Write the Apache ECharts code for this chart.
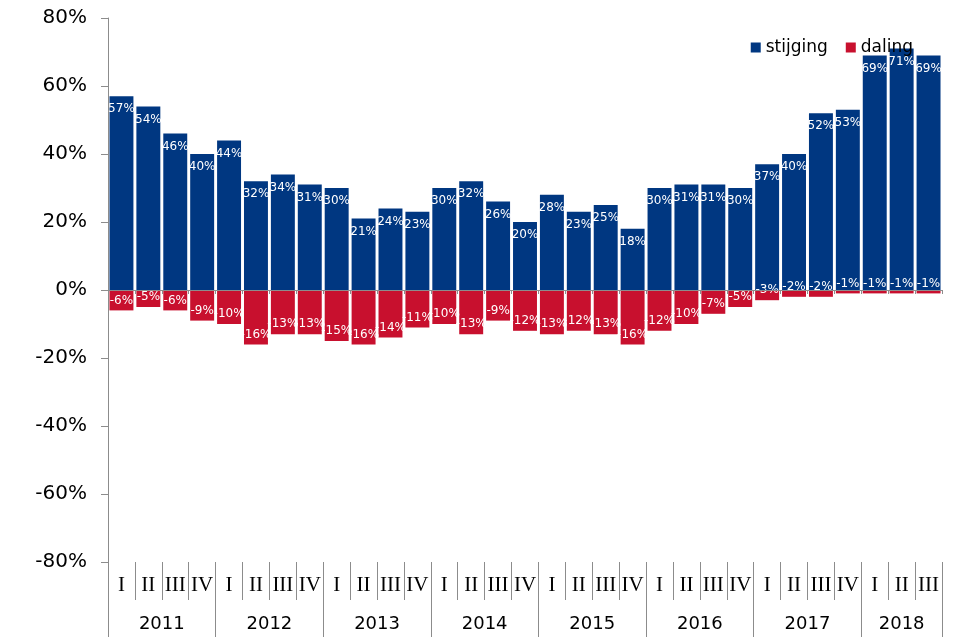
<!DOCTYPE html>
<html>
<head>
<meta charset="utf-8">
<script src="https://cdn.jsdelivr.net/npm/echarts@6/dist/echarts.min.js"></script>
<style>
html,body{margin:0;padding:0;background:#fff;}
#chart{width:976px;height:637px;}
</style>
</head>
<body>
<div id="chart"></div>
<script>
var years = ['2011','2012','2013','2014','2015','2016','2017','2018'];
var quarterNames = ['I','II','III','IV'];
var quartersPerYear = [4,4,4,4,4,4,4,3];
var stijging = [57,54,46,40, 44,32,34,31, 30,21,24,23, 30,32,26,20, 28,23,25,18, 30,31,31,30, 37,40,52,53, 69,71,69];
var daling = [-6,-5,-6,-9, -10,-16,-13,-13, -15,-16,-14,-11, -10,-13,-9,-12, -13,-12,-13,-16, -12,-10,-7,-5, -3,-2,-2,-1, -1,-1,-1];
var yTicks = {min:-80, max:80, interval:20};

// category lists derived from the arrays
var quarters = [];
years.forEach(function(y, i){
  for (var q = 0; q < quartersPerYear[i]; q++) quarters.push(quarterNames[q]);
});
var nQ = quarters.length;
// year axis: points every half quarter (boundaryGap false), 2*nQ+1 points
var yearPoints = [];
for (var k = 0; k <= 2*nQ; k++) yearPoints.push('');
var yearBoundaries = [0];
var pos = 0;
years.forEach(function(y, i){
  var start = pos;
  pos += quartersPerYear[i];
  yearBoundaries.push(pos * 2);
  yearPoints[start + pos] = y;
});

var axisGray = '#8c8c8c';
var chart = echarts.init(document.getElementById('chart'));
chart.setOption({
  animation: false,
  textStyle: {fontFamily: 'DejaVu Sans'},
  grid: {left: 108, right: 34, top: 18, bottom: 75},
  legend: {
    data: ['stijging','daling'],
    right: 58, top: 34,
    icon: 'rect', itemWidth: 10, itemHeight: 10, itemGap: 18,
    textStyle: {fontSize: 17, color: '#000', fontFamily: 'DejaVu Sans'}
  },
  xAxis: [
    {
      type: 'category', data: quarters, position: 'bottom', z: 3,
      axisLine: {onZero: true, lineStyle: {color: axisGray, width: 1}},
      axisTick: {show: true, interval: 0, length: 4, lineStyle: {color: axisGray}},
      axisLabel: {show: false}
    },
    {
      type: 'category', data: quarters, position: 'bottom',
      axisLine: {show: false, onZero: false},
      axisTick: {show: true, interval: 0, length: 38, lineStyle: {color: axisGray}},
      axisLabel: {interval: 0, margin: 13, fontFamily: 'Liberation Serif', fontSize: 21, color: '#000'}
    },
    {
      type: 'category', data: yearPoints, position: 'bottom', boundaryGap: false,
      axisLine: {show: false, onZero: false},
      axisTick: {show: true, length: 76, lineStyle: {color: axisGray},
        interval: function(idx){ return yearBoundaries.indexOf(idx) >= 0; }},
      axisLabel: {interval: 0, margin: 53, fontSize: 18, color: '#000', fontFamily: 'DejaVu Sans'}
    }
  ],
  yAxis: {
    type: 'value', min: yTicks.min, max: yTicks.max, interval: yTicks.interval,
    axisLine: {show: true, lineStyle: {color: axisGray}},
    axisTick: {show: true, length: 7, lineStyle: {color: axisGray}},
    splitLine: {show: false},
    axisLabel: {formatter: '{value}%', fontSize: 20, color: '#000', margin: 21, fontFamily: 'DejaVu Sans'}
  },
  series: [
    {
      name: 'stijging', type: 'bar', data: stijging, xAxisIndex: 0,
      barCategoryGap: '11%', barGap: '-100%',
      itemStyle: {color: '#003781'},
      label: {show: true, position: 'insideTop', distance: 7, color: '#fff', fontSize: 12,
        fontFamily: 'DejaVu Sans', formatter: function(p){ return p.value + '%'; }}
    },
    {
      name: 'daling', type: 'bar', data: daling, xAxisIndex: 0,
      barCategoryGap: '11%', barGap: '-100%',
      itemStyle: {color: '#c8102e'},
      label: {show: true, position: 'insideBottom', distance: 4, color: '#fff', fontSize: 12,
        fontFamily: 'DejaVu Sans', formatter: function(p){ return p.value + '%'; }}
    }
  ]
});
</script>
</body>
</html>
